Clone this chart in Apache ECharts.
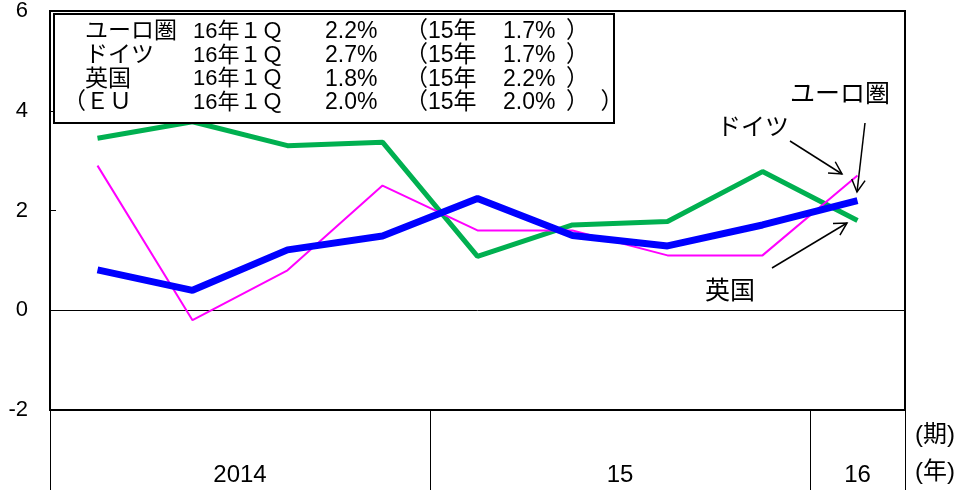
<!DOCTYPE html>
<html><head><meta charset="utf-8">
<script src="https://cdn.jsdelivr.net/npm/echarts@6/dist/echarts.min.js"></script>
<style>html,body{margin:0;padding:0;background:#fff}#c{width:964px;height:493px}</style>
</head><body><div id="c"></div>
<script>
// ---- data ----
const quarters = ['14Q1','14Q2','14Q3','14Q4','15Q1','15Q2','15Q3','15Q4','16Q1'];
const euroArea = [0.81, 0.40, 1.21, 1.49, 2.24, 1.50, 1.29, 1.71, 2.20];
const germany  = [2.90, -0.20, 0.80, 2.50, 1.60, 1.60, 1.10, 1.10, 2.70];
const uk       = [3.45, 3.78, 3.30, 3.37, 1.08, 1.71, 1.78, 2.78, 1.80];
const yearLabels = ['2014', '15', '16'];
const yearSpans  = [4, 4, 1];
const yTicks = { min: -2, max: 6, interval: 2 };

const tableNames   = ['ユーロ圏', 'ドイツ', '英国', '（ＥＵ'];
const tablePeriod  = ['16年１Ｑ', '16年１Ｑ', '16年１Ｑ', '16年１Ｑ'];
const tableLatest  = ['2.2%', '2.7%', '1.8%', '2.0%'];
const tableYearLbl = ['（15年', '（15年', '（15年', '（15年'];
const tableAnnual  = ['1.7%', '1.7%', '2.2%', '2.0%'];
const tableClose   = ['）', '）', '）', '）　）'];

// ---- derived year-axis positions ----
const yearBounds = [0];
yearSpans.forEach(s => yearBounds.push(yearBounds[yearBounds.length - 1] + s));
const yearCenters = yearSpans.map((s, i) => yearBounds[i] + s / 2);

const FONT = '"Liberation Sans", Arial, "Noto Sans CJK JP", sans-serif';
const chart = echarts.init(document.getElementById('c'), null, { renderer: 'canvas' });

function txt(x, y, text, size, align) {
  return { type: 'text', x: x, y: y, z: 110,
    style: { text: text, fill: '#000', font: size + 'px ' + FONT,
      textAlign: align || 'left', textVerticalAlign: 'middle' } };
}
function arrow(x1, y1, x2, y2) {
  const a = Math.atan2(y2 - y1, x2 - x1), L = 14, w = 0.5;
  const p1 = [x2 - L * Math.cos(a - w), y2 - L * Math.sin(a - w)];
  const p2 = [x2 - L * Math.cos(a + w), y2 - L * Math.sin(a + w)];
  return [
    { type: 'line', z: 110, shape: { x1: x1, y1: y1, x2: x2, y2: y2 }, style: { stroke: '#000', lineWidth: 1.5 } },
    { type: 'polyline', z: 110, shape: { points: [p1, [x2, y2], p2] }, style: { stroke: '#000', lineWidth: 1.5, fill: null } }
  ];
}

const graphics = [
  { type: 'rect', z: 100, shape: { x: 54, y: 14, width: 560, height: 109 },
    style: { fill: '#fff', stroke: '#000', lineWidth: 2 } }
];
tableNames.forEach((n, i) => {
  const y = 32 + i * 23.7;
  graphics.push(txt(i === 3 ? 63 : 85, y, n, 23));
  graphics.push(txt(193, y, tablePeriod[i], 22));
  graphics.push(txt(325, y, tableLatest[i], 23));
  graphics.push(txt(405, y, tableYearLbl[i], 23));
  graphics.push(txt(503, y, tableAnnual[i], 23));
  graphics.push(txt(566, y, tableClose[i], 23));
});
graphics.push(txt(790, 95, 'ユーロ圏', 25));
graphics.push(txt(717, 128, 'ドイツ', 24));
graphics.push(txt(705, 292, '英国', 25));
graphics.push(txt(915, 435, '(期)', 24));
graphics.push(txt(915, 472, '(年)', 24));
graphics.push(...arrow(790, 141, 842, 174));
graphics.push(...arrow(865, 123, 857, 192));
graphics.push(...arrow(772, 268, 847, 223));

const option = {
  animation: false,
  backgroundColor: '#fff',
  textStyle: { fontFamily: FONT },
  grid: { left: 50, right: 59, top: 6, bottom: 83, show: true, borderColor: '#000', borderWidth: 2, backgroundColor: 'transparent' },
  xAxis: [
    { type: 'category', data: quarters, boundaryGap: true,
      axisLine: { show: true, onZero: true, lineStyle: { color: '#000', width: 1 } },
      axisTick: { show: false }, axisLabel: { show: false }, splitLine: { show: false } },
    { type: 'value', min: 0, max: quarters.length, position: 'bottom', offset: 0,
      axisLine: { show: false, onZero: false },
      splitLine: { show: false },
      axisTick: { show: true, customValues: yearBounds, length: 80, lineStyle: { color: '#000', width: 1 } },
      axisLabel: { show: true, customValues: yearCenters, margin: 53, fontSize: 24, color: '#000', fontFamily: FONT,
        formatter: v => yearLabels[yearCenters.indexOf(v)] } }
  ],
  yAxis: {
    type: 'value', min: yTicks.min, max: yTicks.max, interval: yTicks.interval,
    axisLine: { show: false },
    axisTick: { show: true, inside: true, length: 6, lineStyle: { color: '#000' } },
    axisLabel: { fontSize: 22, color: '#000', margin: 22, fontFamily: FONT },
    splitLine: { show: false }
  },
  series: [
    { name: '英国', type: 'line', data: uk, symbol: 'none', lineStyle: { color: '#00B050', width: 5 }, z: 2 },
    { name: 'ドイツ', type: 'line', data: germany, symbol: 'none', lineStyle: { color: '#FF00FF', width: 2 }, z: 3 },
    { name: 'ユーロ圏', type: 'line', data: euroArea, symbol: 'none', lineStyle: { color: '#0000FF', width: 7 }, z: 4 }
  ],
  graphic: graphics
};
chart.setOption(option);
</script>
</body></html>
